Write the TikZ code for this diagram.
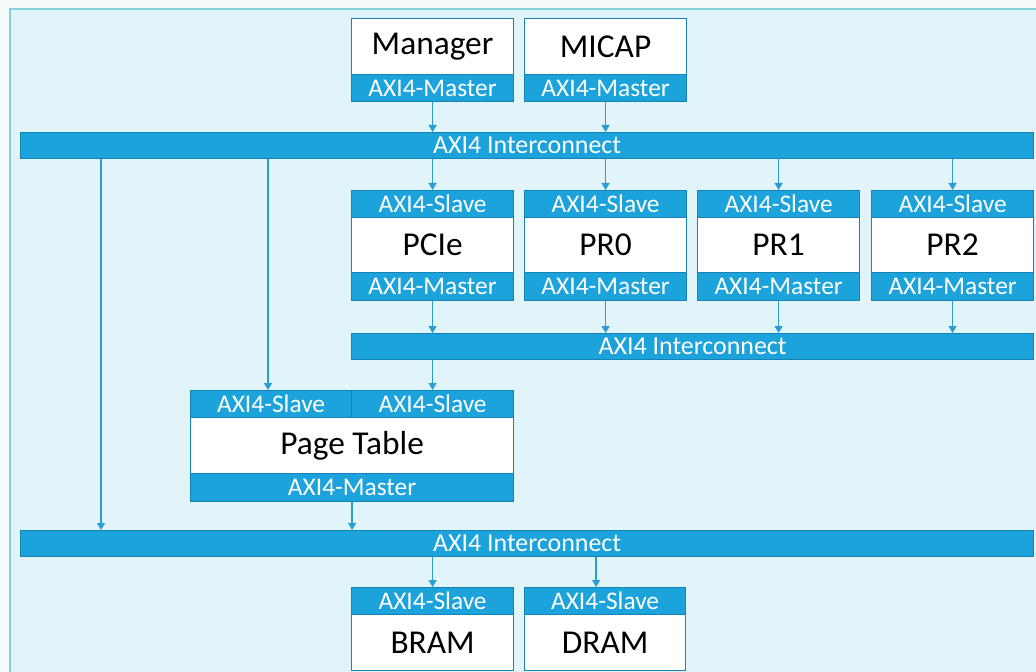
\documentclass[tikz,border=0pt]{standalone}
\usepackage{fontspec}
\setmainfont{Carlito}
\usetikzlibrary{arrows.meta,positioning}
\definecolor{axiblue}{HTML}{1DA3DC}
\definecolor{axiedge}{HTML}{1683B5}
\definecolor{arrowc}{HTML}{2A9ED2}
\definecolor{panel}{HTML}{E1F4F9}
\definecolor{frame}{HTML}{86D0DA}
\definecolor{outside}{HTML}{F6FBFC}
\tikzset{
  band/.style={draw=axiedge, fill=axiblue, line width=1.2bp, text=white,
    font=\fontsize{25.5}{25.5}\selectfont, inner sep=0pt, anchor=north west,
    minimum height=#1},
  band/.default=27bp,
  body/.style={draw=axiedge, fill=white, line width=1.2bp, text=black,
    font=\fontsize{33.5}{33.5}\selectfont, inner sep=0pt, anchor=north west},
  bus/.style={draw=axiedge, fill=axiblue, line width=1.2bp, text=white,
    font=\fontsize{26}{26}\selectfont, inner sep=0pt, anchor=north west,
    minimum height=26bp},
  link/.style={draw=arrowc, line width=1.3bp, -{Triangle[width=8bp,length=7bp]}},
}
\begin{document}
\begin{tikzpicture}[x=1bp,y=-1bp]
\useasboundingbox (0,0) rectangle (1036,672);
\clip (0,0) rectangle (1036,672);
\fill[outside] (0,0) rectangle (1036,672);
\draw[frame, fill=panel, line width=1.5bp] (10,9) rectangle (1050,690);

% top masters
\node[body, minimum width=162bp, minimum height=56bp] (mgr) at (351,18) {Manager};
\node[band, minimum width=162bp] (mgrM) at (351,74) {AXI4-Master};
\node[body, minimum width=162bp, minimum height=56bp] (micap) at (524,18) {MICAP};
\node[band, minimum width=162bp] (micapM) at (524,74) {AXI4-Master};

% bus 1
\node[bus, minimum width=1013bp] (bus1) at (20,132) {AXI4 Interconnect};

% row of PCIe / PR
\foreach \n/\t/\x in {pcie/PCIe/351, prz/PR0/524, pro/PR1/697, prt/PR2/871}{
  \node[band, minimum width=162bp] (\n S) at (\x,190) {AXI4-Slave};
  \node[body, minimum width=162bp, minimum height=55bp] (\n) at (\x,217) {\t};
  \node[band=28bp, minimum width=162bp] (\n M) at (\x,272) {AXI4-Master};
}

% bus 2
\node[bus, minimum width=682bp] (bus2) at (351,333) {AXI4 Interconnect};

% page table
\node[band, minimum width=161bp] (ptSa) at (190,390) {AXI4-Slave};
\node[band, minimum width=162bp] (ptSb) at (351,390) {AXI4-Slave};
\node[body, minimum width=323bp, minimum height=56bp] (pt) at (190,417) {Page Table};
\node[band=28bp, minimum width=323bp] (ptM) at (190,473) {AXI4-Master};

% bus 3
\node[bus, minimum width=1013bp] (bus3) at (20,530) {AXI4 Interconnect};

% memories
\node[band, minimum width=162bp] (bramS) at (351,587) {AXI4-Slave};
\node[body, minimum width=162bp, minimum height=56bp] (bram) at (351,614) {BRAM};
\node[band, minimum width=161bp] (dramS) at (524,587) {AXI4-Slave};
\node[body, minimum width=161bp, minimum height=56bp] (dram) at (524,614) {DRAM};

% connectors
\coordinate (l1) at (101,0);
\coordinate (l2) at (268,0);
\draw[link] (mgrM.south) -- (mgrM.south |- bus1.north);
\draw[link] (micapM.south) -- (micapM.south |- bus1.north);
\foreach \n in {pcie,prz,pro,prt}{
  \draw[link] (\n S.north |- bus1.south) -- (\n S.north);
  \draw[link] (\n M.south) -- (\n M.south |- bus2.north);
}
\draw[link] (ptSb.north |- bus2.south) -- (ptSb.north);
\draw[link] (l2 |- bus1.south) -- (l2 |- ptSa.north);
\draw[link] (l1 |- bus1.south) -- (l1 |- bus3.north);
\draw[link] (ptM.south) -- (ptM.south |- bus3.north);
\draw[link] (bramS.north |- bus3.south) -- (bramS.north);
\coordinate (dd) at ([xshift=-9bp]dramS.north);
\draw[link] (dd |- bus3.south) -- (dd);
\end{tikzpicture}
\end{document}
